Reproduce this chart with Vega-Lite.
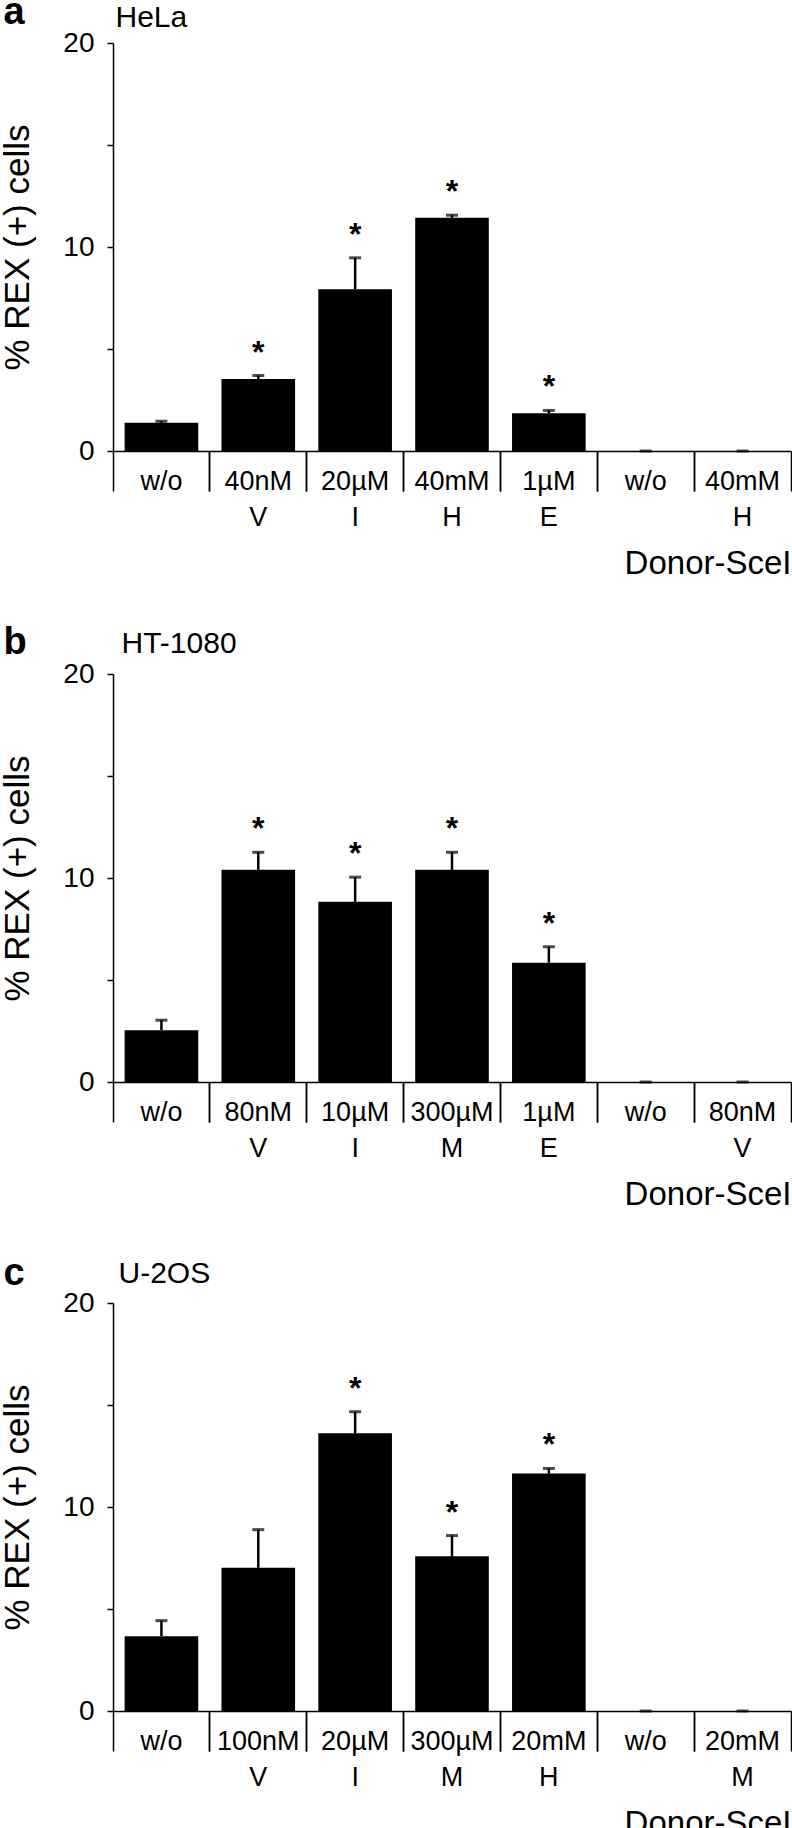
{
  "$schema": "https://vega.github.io/schema/vega-lite/v6.json",
  "padding": {"top": -7, "left": 0, "right": 0, "bottom": 0},
  "background": "white",
  "spacing": 43,
  "config": {
    "view": {"stroke": null},
    "font": "Liberation Sans",
    "axis": {"labelFont": "Liberation Sans", "titleFont": "Liberation Sans", "labelColor": "black", "titleColor": "black", "domainColor": "black", "tickColor": "black", "grid": false, "titleFontWeight": "normal"},
    "title": {"font": "Liberation Sans", "color": "black"}
  },
  "datasets": {
    "a": [
      {"cat": "1|w/o|", "v": 1.38, "hi": 1.46, "sig": ""},
      {"cat": "2|40nM|V", "v": 3.53, "hi": 3.70, "sig": "*"},
      {"cat": "3|20µM|I", "v": 7.93, "hi": 9.47, "sig": "*"},
      {"cat": "4|40mM|H", "v": 11.43, "hi": 11.56, "sig": "*"},
      {"cat": "5|1µM|E", "v": 1.85, "hi": 1.99, "sig": "*"},
      {"cat": "6|w/o|", "v": 0, "hi": 0, "sig": ""},
      {"cat": "7|40mM|H", "v": 0, "hi": 0, "sig": ""}
    ],
    "b": [
      {"cat": "1|w/o|", "v": 2.54, "hi": 3.03, "sig": ""},
      {"cat": "2|80nM|V", "v": 10.40, "hi": 11.26, "sig": "*"},
      {"cat": "3|10µM|I", "v": 8.83, "hi": 10.04, "sig": "*"},
      {"cat": "4|300µM|M", "v": 10.40, "hi": 11.26, "sig": "*"},
      {"cat": "5|1µM|E", "v": 5.85, "hi": 6.63, "sig": "*"},
      {"cat": "6|w/o|", "v": 0, "hi": 0, "sig": ""},
      {"cat": "7|80nM|V", "v": 0, "hi": 0, "sig": ""}
    ],
    "c": [
      {"cat": "1|w/o|", "v": 3.67, "hi": 4.43, "sig": ""},
      {"cat": "2|100nM|V", "v": 7.02, "hi": 8.89, "sig": ""},
      {"cat": "3|20µM|I", "v": 13.61, "hi": 14.67, "sig": "*"},
      {"cat": "4|300µM|M", "v": 7.58, "hi": 8.60, "sig": "*"},
      {"cat": "5|20mM|H", "v": 11.64, "hi": 11.89, "sig": "*"},
      {"cat": "6|w/o|", "v": 0, "hi": 0, "sig": ""},
      {"cat": "7|20mM|M", "v": 0, "hi": 0, "sig": ""}
    ]
  },
  "vconcat": [
    {
      "data": {"name": "a"},
      "width": 678, "height": 408,
      "layer": [
        {"mark": {"type": "bar", "color": "black", "width": {"band": 0.76}},
         "encoding": {
           "x": {"field": "cat", "type": "nominal", "sort": null, "scale": {"paddingInner": 0, "paddingOuter": 0},
             "axis": {"orient": "bottom", "ticks": false, "tickSize": 0, "domain": true, "domainWidth": 1.5, "labelAngle": 0, "labelExpr": "[split(datum.label,'|')[1], split(datum.label,'|')[2]]", "labelFontSize": 27, "labelBaseline": "top", "labelPadding": 17, "labelLineHeight": 36, "labelAlign": "center", "title": "Donor-SceI", "titleFontSize": 33, "titleAnchor": "end", "titlePadding": 17}},
           "y": {"field": "v", "type": "quantitative", "scale": {"domain": [0, 20], "nice": false},
             "axis": {"values": [0, 5, 10, 15, 20], "labelExpr": "datum.value % 10 == 0 ? datum.label : ''", "tickSize": 6, "tickWidth": 1.5, "domainWidth": 1.5, "labelFontSize": 28, "labelPadding": 13, "title": "% REX (+) cells", "titleFontSize": 35, "titlePadding": 27}}
         }},
        {"mark": {"type": "rule", "color": "black", "strokeWidth": 2.5},
         "encoding": {
           "x": {"field": "cat", "type": "nominal", "sort": null, "axis": {"orient": "bottom", "bandPosition": 0, "labels": false, "domain": false, "ticks": true, "tickSize": 40, "tickWidth": 1.5, "title": null}},
           "y": {"field": "v", "type": "quantitative"}, "y2": {"field": "hi"}}},
        {"mark": {"type": "tick", "color": "black", "thickness": 3, "size": 12},
         "encoding": {
           "x": {"field": "cat", "type": "nominal", "sort": null, "axis": {"orient": "bottom", "bandPosition": 1, "labels": false, "domain": false, "ticks": true, "tickSize": 40, "tickWidth": 1.5, "title": null}},
           "y": {"field": "hi", "type": "quantitative"}}},
        {"mark": {"type": "text", "fontSize": 32, "fontWeight": "bold", "baseline": "alphabetic", "dy": -13, "color": "black", "font": "Liberation Sans"},
         "encoding": {
           "x": {"field": "cat", "type": "nominal", "sort": null, "axis": {"orient": "top", "labels": false, "ticks": false, "domain": false, "title": "HeLa", "titleFontSize": 30, "titleAnchor": "start", "titleAlign": "left", "titleX": 2, "titleY": -17, "titleBaseline": "alphabetic"}},
           "y": {"field": "hi", "type": "quantitative"},
           "text": {"field": "sig"}}},
        {"mark": {"type": "text", "text": ""},
         "encoding": {
           "x": {"field": "cat", "type": "nominal", "sort": null, "axis": {"orient": "top", "labels": false, "ticks": false, "domain": false, "title": "a", "titleFontSize": 38, "titleFontWeight": "bold", "titleAnchor": "start", "titleAlign": "left", "titleX": -110, "titleY": -20, "titleBaseline": "alphabetic"}},
           "y": {"field": "hi", "type": "quantitative"}}}
      ],
      "resolve": {"axis": {"x": "independent"}}
    },
    {
      "data": {"name": "b"},
      "width": 678, "height": 408,
      "layer": [
        {"mark": {"type": "bar", "color": "black", "width": {"band": 0.76}},
         "encoding": {
           "x": {"field": "cat", "type": "nominal", "sort": null, "scale": {"paddingInner": 0, "paddingOuter": 0},
             "axis": {"orient": "bottom", "ticks": false, "tickSize": 0, "domain": true, "domainWidth": 1.5, "labelAngle": 0, "labelExpr": "[split(datum.label,'|')[1], split(datum.label,'|')[2]]", "labelFontSize": 27, "labelBaseline": "top", "labelPadding": 17, "labelLineHeight": 36, "labelAlign": "center", "title": "Donor-SceI", "titleFontSize": 33, "titleAnchor": "end", "titlePadding": 17}},
           "y": {"field": "v", "type": "quantitative", "scale": {"domain": [0, 20], "nice": false},
             "axis": {"values": [0, 5, 10, 15, 20], "labelExpr": "datum.value % 10 == 0 ? datum.label : ''", "tickSize": 6, "tickWidth": 1.5, "domainWidth": 1.5, "labelFontSize": 28, "labelPadding": 13, "title": "% REX (+) cells", "titleFontSize": 35, "titlePadding": 27}}
         }},
        {"mark": {"type": "rule", "color": "black", "strokeWidth": 2.5},
         "encoding": {
           "x": {"field": "cat", "type": "nominal", "sort": null, "axis": {"orient": "bottom", "bandPosition": 0, "labels": false, "domain": false, "ticks": true, "tickSize": 40, "tickWidth": 1.5, "title": null}},
           "y": {"field": "v", "type": "quantitative"}, "y2": {"field": "hi"}}},
        {"mark": {"type": "tick", "color": "black", "thickness": 3, "size": 12},
         "encoding": {
           "x": {"field": "cat", "type": "nominal", "sort": null, "axis": {"orient": "bottom", "bandPosition": 1, "labels": false, "domain": false, "ticks": true, "tickSize": 40, "tickWidth": 1.5, "title": null}},
           "y": {"field": "hi", "type": "quantitative"}}},
        {"mark": {"type": "text", "fontSize": 32, "fontWeight": "bold", "baseline": "alphabetic", "dy": -13, "color": "black", "font": "Liberation Sans"},
         "encoding": {
           "x": {"field": "cat", "type": "nominal", "sort": null, "axis": {"orient": "top", "labels": false, "ticks": false, "domain": false, "title": "HT-1080", "titleFontSize": 30, "titleAnchor": "start", "titleAlign": "left", "titleX": 8, "titleY": -22, "titleBaseline": "alphabetic"}},
           "y": {"field": "hi", "type": "quantitative"},
           "text": {"field": "sig"}}},
        {"mark": {"type": "text", "text": ""},
         "encoding": {
           "x": {"field": "cat", "type": "nominal", "sort": null, "axis": {"orient": "top", "labels": false, "ticks": false, "domain": false, "title": "b", "titleFontSize": 38, "titleFontWeight": "bold", "titleAnchor": "start", "titleAlign": "left", "titleX": -110, "titleY": -21, "titleBaseline": "alphabetic"}},
           "y": {"field": "hi", "type": "quantitative"}}}
      ],
      "resolve": {"axis": {"x": "independent"}}
    },
    {
      "data": {"name": "c"},
      "width": 678, "height": 408,
      "layer": [
        {"mark": {"type": "bar", "color": "black", "width": {"band": 0.76}},
         "encoding": {
           "x": {"field": "cat", "type": "nominal", "sort": null, "scale": {"paddingInner": 0, "paddingOuter": 0},
             "axis": {"orient": "bottom", "ticks": false, "tickSize": 0, "domain": true, "domainWidth": 1.5, "labelAngle": 0, "labelExpr": "[split(datum.label,'|')[1], split(datum.label,'|')[2]]", "labelFontSize": 27, "labelBaseline": "top", "labelPadding": 17, "labelLineHeight": 36, "labelAlign": "center", "title": "Donor-SceI", "titleFontSize": 33, "titleAnchor": "end", "titlePadding": 17}},
           "y": {"field": "v", "type": "quantitative", "scale": {"domain": [0, 20], "nice": false},
             "axis": {"values": [0, 5, 10, 15, 20], "labelExpr": "datum.value % 10 == 0 ? datum.label : ''", "tickSize": 6, "tickWidth": 1.5, "domainWidth": 1.5, "labelFontSize": 28, "labelPadding": 13, "title": "% REX (+) cells", "titleFontSize": 35, "titlePadding": 27}}
         }},
        {"mark": {"type": "rule", "color": "black", "strokeWidth": 2.5},
         "encoding": {
           "x": {"field": "cat", "type": "nominal", "sort": null, "axis": {"orient": "bottom", "bandPosition": 0, "labels": false, "domain": false, "ticks": true, "tickSize": 40, "tickWidth": 1.5, "title": null}},
           "y": {"field": "v", "type": "quantitative"}, "y2": {"field": "hi"}}},
        {"mark": {"type": "tick", "color": "black", "thickness": 3, "size": 12},
         "encoding": {
           "x": {"field": "cat", "type": "nominal", "sort": null, "axis": {"orient": "bottom", "bandPosition": 1, "labels": false, "domain": false, "ticks": true, "tickSize": 40, "tickWidth": 1.5, "title": null}},
           "y": {"field": "hi", "type": "quantitative"}}},
        {"mark": {"type": "text", "fontSize": 32, "fontWeight": "bold", "baseline": "alphabetic", "dy": -13, "color": "black", "font": "Liberation Sans"},
         "encoding": {
           "x": {"field": "cat", "type": "nominal", "sort": null, "axis": {"orient": "top", "labels": false, "ticks": false, "domain": false, "title": "U-2OS", "titleFontSize": 30, "titleAnchor": "start", "titleAlign": "left", "titleX": 5, "titleY": -21, "titleBaseline": "alphabetic"}},
           "y": {"field": "hi", "type": "quantitative"},
           "text": {"field": "sig"}}},
        {"mark": {"type": "text", "text": ""},
         "encoding": {
           "x": {"field": "cat", "type": "nominal", "sort": null, "axis": {"orient": "top", "labels": false, "ticks": false, "domain": false, "title": "c", "titleFontSize": 38, "titleFontWeight": "bold", "titleAnchor": "start", "titleAlign": "left", "titleX": -110, "titleY": -19, "titleBaseline": "alphabetic"}},
           "y": {"field": "hi", "type": "quantitative"}}}
      ],
      "resolve": {"axis": {"x": "independent"}}
    }
  ]
}
